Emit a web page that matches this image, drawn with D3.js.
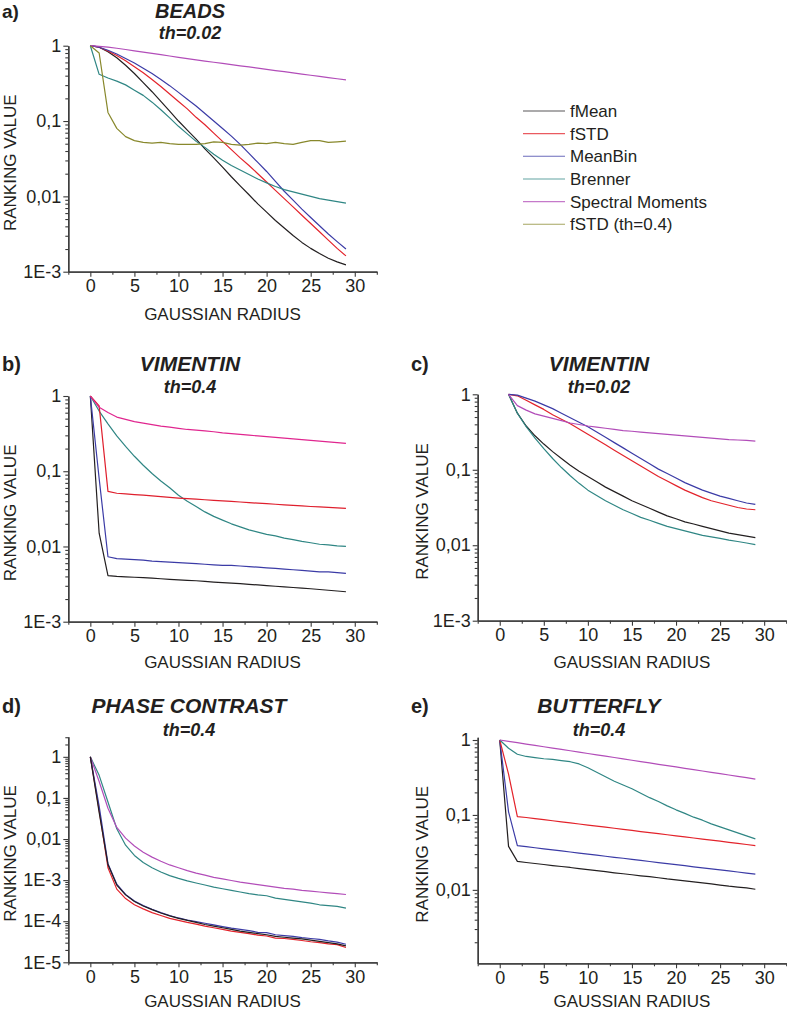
<!DOCTYPE html>
<html><head><meta charset="utf-8">
<script src="https://cdn.jsdelivr.net/npm/d3@7"></script>
<style>
body{margin:0;background:#fff;}
svg text{font-family:"Liberation Sans",Arial,Helvetica,sans-serif;fill:#231f20;}
</style></head><body>
<svg id="chart" width="787" height="1012"></svg>
<script>
// ---------- categories ----------
const radius = [0,1,2,3,4,5,6,7,8,9,10,11,12,13,14,15,16,17,18,19,20,21,22,23,24,25,26,27,28,29];
const radiusFrom1 = [1,2,3,4,5,6,7,8,9,10,11,12,13,14,15,16,17,18,19,20,21,22,23,24,25,26,27,28,29];
const seriesNames = ["fMean","fSTD","MeanBin","Brenner","Spectral Moments","fSTD (th=0.4)"];

// ---------- a) BEADS th=0.02 ----------
const beadsFMean = [1,0.955,0.832,0.692,0.550,0.427,0.324,0.245,0.182,0.135,0.1,0.0759,0.0575,0.0427,0.0324,0.0245,0.0182,0.0138,0.0105,0.00794,0.00617,0.00479,0.0038,0.00302,0.00245,0.00204,0.00174,0.00151,0.00135,0.00123];
const beadsFSTD = [1,0.955,0.851,0.741,0.631,0.525,0.437,0.355,0.288,0.229,0.182,0.145,0.112,0.0891,0.0692,0.0537,0.0417,0.0324,0.0257,0.02,0.0155,0.012,0.00933,0.00724,0.00562,0.00437,0.00339,0.00263,0.00204,0.00162];
const beadsMeanBin = [1,0.955,0.871,0.776,0.676,0.589,0.501,0.427,0.355,0.295,0.24,0.195,0.158,0.126,0.1,0.0794,0.0631,0.049,0.0372,0.0282,0.0214,0.0158,0.0117,0.00891,0.00676,0.00525,0.00407,0.00316,0.00251,0.002];
const beadsBrenner = [1,0.417,0.372,0.339,0.302,0.257,0.219,0.178,0.141,0.11,0.0851,0.0676,0.0537,0.0447,0.0363,0.0302,0.0257,0.0224,0.0195,0.017,0.0151,0.0135,0.0123,0.0115,0.0107,0.01,0.00933,0.00891,0.00851,0.00813];
const beadsSpectral = [1,0.98,0.955,0.925,0.89,0.855,0.82,0.79,0.76,0.73,0.70,0.672,0.648,0.625,0.603,0.582,0.561,0.541,0.522,0.503,0.486,0.468,0.452,0.436,0.42,0.405,0.391,0.377,0.364,0.351];
const beadsFSTD04 = [1,0.8,0.13,0.08,0.062,0.055,0.052,0.051,0.052,0.05,0.049,0.049,0.049,0.05,0.053,0.052,0.049,0.048,0.049,0.051,0.05,0.052,0.05,0.049,0.052,0.055,0.055,0.052,0.053,0.054];

// ---------- b) VIMENTIN th=0.4 ----------
const vim04FMean = [1,0.015,0.0041,0.0040,0.00395,0.0039,0.00385,0.0038,0.00372,0.00365,0.0036,0.00355,0.0035,0.00343,0.00336,0.0033,0.00325,0.0032,0.00314,0.00308,0.00302,0.00296,0.0029,0.00285,0.0028,0.00274,0.00268,0.00262,0.00256,0.0025];
const vim04FSTD = [1,0.74,0.054,0.051,0.050,0.049,0.048,0.047,0.046,0.045,0.044,0.0432,0.0425,0.0418,0.0411,0.0404,0.0397,0.039,0.0383,0.0376,0.037,0.0364,0.0358,0.0352,0.0346,0.034,0.0335,0.033,0.0325,0.032];
const vim04MeanBin = [1,0.08,0.0073,0.0069,0.0068,0.0067,0.0066,0.0064,0.0063,0.0062,0.0061,0.006,0.0059,0.0058,0.0057,0.0056,0.0056,0.0055,0.0054,0.0053,0.0052,0.0051,0.005,0.0049,0.0048,0.0047,0.0046,0.0046,0.0045,0.0044];
const vim04Brenner = [1,0.631,0.427,0.295,0.214,0.158,0.12,0.0933,0.0741,0.0603,0.0479,0.0398,0.0339,0.0288,0.0251,0.0224,0.02,0.0182,0.0166,0.0155,0.0145,0.0138,0.0129,0.0123,0.0117,0.0112,0.0107,0.0105,0.0102,0.01];
const vim04Spectral = [1,0.708,0.603,0.525,0.49,0.457,0.437,0.417,0.398,0.385,0.372,0.359,0.351,0.343,0.335,0.324,0.316,0.309,0.302,0.295,0.288,0.282,0.275,0.269,0.263,0.257,0.251,0.245,0.24,0.234];

// ---------- c) VIMENTIN th=0.02 (radius 1..29) ----------
const vim002FMean = [1,0.562,0.380,0.282,0.219,0.174,0.141,0.115,0.0955,0.0813,0.0692,0.0589,0.0513,0.0447,0.0389,0.0347,0.0309,0.0275,0.0245,0.0224,0.0204,0.0191,0.0178,0.0166,0.0155,0.0145,0.0138,0.0132,0.0126];
const vim002FSTD = [1,0.955,0.832,0.724,0.631,0.537,0.468,0.407,0.347,0.295,0.251,0.214,0.182,0.155,0.132,0.112,0.0955,0.0813,0.0708,0.0617,0.0537,0.0479,0.0427,0.0389,0.0363,0.0339,0.0316,0.0302,0.0295];
const vim002MeanBin = [1,0.977,0.891,0.813,0.724,0.646,0.562,0.490,0.427,0.372,0.316,0.269,0.229,0.195,0.166,0.141,0.120,0.102,0.0891,0.0776,0.0676,0.0603,0.0537,0.049,0.0447,0.0417,0.0389,0.0363,0.0347];
const vim002Brenner = [1,0.562,0.372,0.263,0.191,0.141,0.107,0.0832,0.0661,0.0537,0.0457,0.0389,0.0339,0.0295,0.0263,0.0234,0.0214,0.0195,0.0178,0.0166,0.0155,0.0145,0.0135,0.0129,0.0123,0.0117,0.0112,0.0107,0.0102];
const vim002Spectral = [1,0.708,0.617,0.55,0.513,0.479,0.447,0.417,0.398,0.38,0.367,0.355,0.343,0.331,0.324,0.316,0.309,0.302,0.295,0.288,0.282,0.275,0.269,0.263,0.257,0.251,0.248,0.245,0.24];

// ---------- d) PHASE CONTRAST th=0.4 ----------
const phaseFMean = [1,0.0447,0.0024,7.59e-4,4.37e-4,3.02e-4,2.34e-4,1.91e-4,1.58e-4,1.35e-4,1.17e-4,1.05e-4,9.33e-5,8.32e-5,7.59e-5,6.92e-5,6.31e-5,5.75e-5,5.37e-5,5.01e-5,4.68e-5,4.27e-5,4.07e-5,3.89e-5,3.72e-5,3.47e-5,3.24e-5,3.02e-5,2.82e-5,2.51e-5];
const phaseFSTD = [1,0.0501,2.0e-3,6.03e-4,3.55e-4,2.51e-4,2.0e-4,1.62e-4,1.38e-4,1.17e-4,1.05e-4,9.33e-5,8.51e-5,7.59e-5,6.92e-5,6.31e-5,5.75e-5,5.37e-5,5.01e-5,4.57e-5,4.37e-5,3.89e-5,3.80e-5,3.63e-5,3.39e-5,3.16e-5,3.02e-5,2.82e-5,2.69e-5,2.29e-5];
const phaseMeanBin = [1,0.0631,2.51e-3,7.94e-4,4.47e-4,3.09e-4,2.40e-4,1.95e-4,1.62e-4,1.38e-4,1.20e-4,1.07e-4,9.77e-5,8.91e-5,8.13e-5,7.41e-5,6.76e-5,6.31e-5,5.89e-5,5.37e-5,5.25e-5,4.68e-5,4.47e-5,4.27e-5,3.98e-5,3.80e-5,3.63e-5,3.31e-5,3.09e-5,2.75e-5];
const phaseBrenner = [1,0.355,0.0794,0.0178,7.08e-3,3.98e-3,2.69e-3,2.0e-3,1.58e-3,1.29e-3,1.10e-3,9.55e-4,8.51e-4,7.59e-4,6.76e-4,6.17e-4,5.62e-4,5.13e-4,4.68e-4,4.37e-4,4.17e-4,3.63e-4,3.39e-4,3.16e-4,2.95e-4,2.75e-4,2.51e-4,2.40e-4,2.29e-4,2.09e-4];
const phaseSpectral = [1,0.251,0.0562,0.0191,0.0105,6.76e-3,4.79e-3,3.63e-3,2.88e-3,2.34e-3,2.0e-3,1.70e-3,1.48e-3,1.32e-3,1.17e-3,1.07e-3,9.77e-4,8.91e-4,8.32e-4,7.76e-4,7.24e-4,6.76e-4,6.31e-4,6.03e-4,5.62e-4,5.37e-4,5.13e-4,4.90e-4,4.68e-4,4.47e-4];

// ---------- e) BUTTERFLY th=0.4 ----------
const butterflyFMean = [1,0.038,0.024,0.0232,0.0225,0.0218,0.0211,0.0205,0.0199,0.0192,0.0186,0.0181,0.0175,0.0169,0.0164,0.0159,0.0154,0.015,0.0145,0.014,0.0136,0.0132,0.0128,0.0124,0.012,0.0116,0.0112,0.0109,0.0106,0.0102];
const butterflyFSTD = [1,0.35,0.095,0.0924,0.0894,0.0865,0.0836,0.0809,0.0783,0.0757,0.0732,0.0708,0.0686,0.0664,0.0642,0.0621,0.060,0.0581,0.0562,0.0544,0.0526,0.0509,0.0492,0.0476,0.0461,0.0446,0.0431,0.0417,0.0403,0.0389];
const butterflyMeanBin = [1,0.11,0.039,0.0377,0.0365,0.0353,0.0342,0.0331,0.032,0.031,0.030,0.029,0.0281,0.0272,0.0264,0.0255,0.0247,0.0239,0.0231,0.0224,0.0217,0.021,0.0203,0.0197,0.0191,0.0185,0.0179,0.0173,0.0167,0.0162];
const butterflyBrenner = [1,0.776,0.646,0.603,0.582,0.562,0.550,0.531,0.513,0.479,0.427,0.372,0.324,0.282,0.251,0.224,0.195,0.170,0.151,0.132,0.117,0.105,0.0933,0.0851,0.0759,0.0692,0.0631,0.0575,0.0525,0.0479];
const butterflySpectral = [1,0.959,0.92,0.883,0.847,0.813,0.78,0.748,0.718,0.689,0.661,0.634,0.608,0.584,0.56,0.537,0.515,0.494,0.474,0.455,0.437,0.419,0.402,0.386,0.37,0.355,0.341,0.327,0.314,0.30];

// ---------- tick labels ----------
const xMajorTicks = [0,5,10,15,20,25,30];
const xMinorTicks = [-2.5,2.5,7.5,12.5,17.5,22.5,27.5,32.5];
const yTickValues = [1e-5,1e-4,1e-3,0.01,0.1,1];
const yTickLabels = ["1E-5","1E-4","1E-3","0,01","0,1","1"];

// ---------- drawing ----------
const svg = d3.select("#chart");
const C = {fMean:"#231f20", fSTD:"#e3232b", MeanBin:"#3b3ba6", Brenner:"#2f8684", Spectral:"#b24db9", fSTD04:"#88882c"};
const axisColor = "#3a3a3a";

const panels = [
  {letter:"a)", title:"BEADS", th:"th=0.02", left:68.3, top:45.7, bottom:271.7, yDomain:[1e-3,1], letterX:2, titleX:190, titleY:18, thY:39, xLabelY:320, yLabelX:16,
   series:[[radius,beadsFMean,C.fMean],[radius,beadsFSTD,C.fSTD],[radius,beadsMeanBin,C.MeanBin],[radius,beadsBrenner,C.Brenner],[radius,beadsSpectral,C.Spectral],[radius,beadsFSTD04,C.fSTD04]]},
  {letter:"b)", title:"VIMENTIN", th:"th=0.4", left:68.3, top:396, bottom:621.7, yDomain:[1e-3,1], letterX:2, titleX:190, titleY:370.5, thY:393, xLabelY:668, yLabelX:16,
   series:[[radius,vim04FMean,C.fMean],[radius,vim04MeanBin,C.MeanBin],[radius,vim04Brenner,C.Brenner],[radius,vim04FSTD,"#df1f2d"],[radius,vim04Spectral,"#e0268f"]]},
  {letter:"c)", title:"VIMENTIN", th:"th=0.02", left:477.7, top:394.3, bottom:620.7, yDomain:[1e-3,1], letterX:411, titleX:599, titleY:371, thY:393, xLabelY:668, yLabelX:428,
   series:[[radiusFrom1,vim002FMean,C.fMean],[radiusFrom1,vim002Brenner,C.Brenner],[radiusFrom1,vim002FSTD,C.fSTD],[radiusFrom1,vim002MeanBin,C.MeanBin],[radiusFrom1,vim002Spectral,C.Spectral]]},
  {letter:"d)", title:"PHASE CONTRAST", th:"th=0.4", left:68.3, top:736.7, bottom:962.3, yDomain:[1e-5,Math.pow(10,0.49)], letterX:2, titleX:189, titleY:713, thY:736, xLabelY:1007, yLabelX:16,
   series:[[radius,phaseBrenner,C.Brenner],[radius,phaseSpectral,C.Spectral],[radius,phaseFSTD,C.fSTD],[radius,phaseMeanBin,C.MeanBin],[radius,phaseFMean,C.fMean]]},
  {letter:"e)", title:"BUTTERFLY", th:"th=0.4", left:477.7, top:737.3, bottom:963.3, yDomain:[Math.pow(10,-2.98),Math.pow(10,0.036)], letterX:411, titleX:599, titleY:713, thY:736, xLabelY:1007, yLabelX:428,
   series:[[radius,butterflyFMean,C.fMean],[radius,butterflyMeanBin,C.MeanBin],[radius,butterflyFSTD,C.fSTD],[radius,butterflyBrenner,C.Brenner],[radius,butterflySpectral,C.Spectral]]}
];

function drawPanel(p, idx){
  const g = svg.append("g");
  const x = d3.scaleLinear().domain([-2.5,32.5]).range([p.left, p.left+308.5]);
  const y = d3.scaleLog().domain(p.yDomain).range([p.bottom, p.top]);
  const [lo, hi] = p.yDomain;
  const minorY = [];
  for (let k = Math.floor(Math.log10(lo)); k <= Math.ceil(Math.log10(hi)); k++) {
    for (let m = 2; m <= 9; m++) { const v = m*Math.pow(10,k); if (v>=lo*0.999 && v<=hi*1.001) minorY.push(v); }
  }
  const majorY = yTickValues.filter(v => v>=lo*0.999 && v<=hi*1.001);
  const labelOf = v => yTickLabels[yTickValues.indexOf(v)];

  // lines
  const line = d3.line().x(d=>x(d[0])).y(d=>y(d[1]));
  p.series.forEach(([xs, vs, col]) => {
    g.append("path").datum(xs.map((r,i)=>[r, vs[i]]))
      .attr("d", line).attr("fill","none").attr("stroke",col).attr("stroke-width",1.2).attr("stroke-linejoin","round");
  });

  // y axis
  const yMinor = g.append("g").attr("transform",`translate(${p.left},0)`)
    .call(d3.axisLeft(y).tickValues(minorY).tickSize(3).tickSizeOuter(0).tickFormat(""));
  const yMajor = g.append("g").attr("transform",`translate(${p.left},0)`)
    .call(d3.axisLeft(y).tickValues(majorY).tickSize(5).tickSizeOuter(0).tickPadding(2).tickFormat(labelOf));
  // x axis
  const xMinor = g.append("g").attr("transform",`translate(0,${p.bottom})`)
    .call(d3.axisBottom(x).tickValues(xMinorTicks).tickSize(3).tickSizeOuter(0).tickFormat(""));
  const xMajor = g.append("g").attr("transform",`translate(0,${p.bottom})`)
    .call(d3.axisBottom(x).tickValues(xMajorTicks).tickSize(5).tickSizeOuter(0).tickPadding(3));
  [yMinor,yMajor,xMinor,xMajor].forEach(a=>{
    a.selectAll("path").attr("stroke",axisColor).attr("stroke-width",1.3);
    a.selectAll("line").attr("stroke",axisColor).attr("stroke-width",1.1);
    a.selectAll("text").attr("font-size",18).attr("font-family",null).style("fill","#231f20");
  });

  // titles
  const first = idx === 0;
  g.append("text").attr("x",p.letterX).attr("y",p.titleY).attr("font-size",first?19:20).attr("font-weight","bold").text(p.letter);
  g.append("text").attr("x",p.titleX).attr("y",p.titleY).attr("text-anchor","middle").attr("font-size",first?20:21)
    .attr("font-weight","bold").attr("font-style","italic").text(p.title);
  g.append("text").attr("x",p.titleX).attr("y",p.thY).attr("text-anchor","middle").attr("font-size",18)
    .attr("font-weight","bold").attr("font-style","italic").text(p.th);
  g.append("text").attr("x",p.left+154.25).attr("y",p.xLabelY).attr("text-anchor","middle").attr("font-size",17).text("GAUSSIAN RADIUS");
  const cy = (p.top+p.bottom)/2+4;
  g.append("text").attr("transform",`translate(${p.yLabelX},${cy}) rotate(-90)`).attr("text-anchor","middle")
    .attr("font-size",17).text("RANKING VALUE");
}
panels.forEach(drawPanel);

// legend
const legendColors = [C.fMean,C.fSTD,C.MeanBin,C.Brenner,C.Spectral,C.fSTD04];
const lg = svg.append("g");
seriesNames.forEach((n,i)=>{
  const yy = 111 + i*22.66;
  lg.append("line").attr("x1",523).attr("x2",565).attr("y1",yy).attr("y2",yy).attr("stroke",legendColors[i]).attr("stroke-width",1.1).attr("opacity",0.75);
  lg.append("text").attr("x",570).attr("y",yy+6).attr("font-size",17).text(n);
});
</script>
</body></html>
